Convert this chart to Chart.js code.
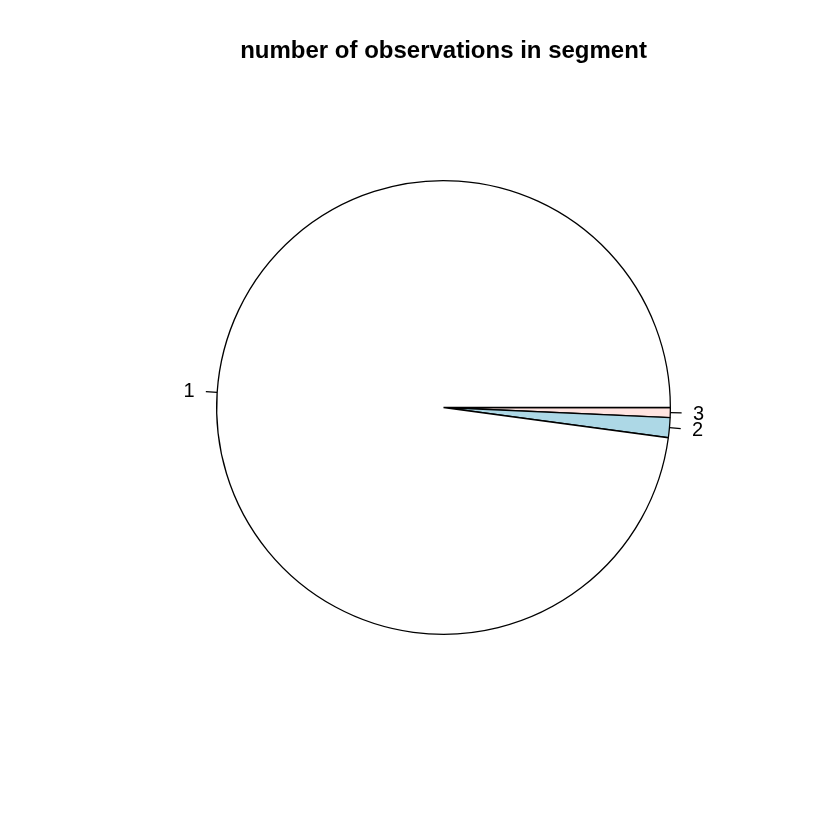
<!DOCTYPE html>
<html>
<head>
<meta charset="utf-8">
<script src="https://cdn.jsdelivr.net/npm/chart.js@4.4.0/dist/chart.umd.min.js"></script>
<style>
  html, body { margin: 0; padding: 0; background: #ffffff; }
  #wrap { width: 840px; height: 840px; }
</style>
</head>
<body>
<div id="wrap"><canvas id="pieChart" width="840" height="840"></canvas></div>
<script>
// dados do grafico
const segments = ['1', '2', '3'];
const counts = [1380, 20, 10];
const sliceColors = ['#ffffff', '#add8e6', '#ffe4e1'];
const titleText = 'number of observations in segment';

// R desenha no sentido anti-horario a partir das 3 horas;
// o Chart.js desenha no sentido horario, entao invertemos a ordem
const revLabels = segments.slice().reverse();
const revCounts = counts.slice().reverse();
const revColors = sliceColors.slice().reverse();

// plugin para os rotulos com tracinho (como o pie() do R)
const pieLabels = {
    id: 'pieLabels',
    afterDatasetsDraw(chart) {
        const ctx = chart.ctx;
        const meta = chart.getDatasetMeta(0);
        ctx.save();
        ctx.font = '20px "Liberation Sans", Arial, sans-serif';
        ctx.fillStyle = '#000000';
        ctx.strokeStyle = '#000000';
        ctx.lineWidth = 1.3;
        ctx.textBaseline = 'middle';
        meta.data.forEach(function(arc, i) {
            const mid = (arc.startAngle + arc.endAngle) / 2;
            const r = arc.outerRadius;
            const cx = arc.x, cy = arc.y;
            const c = Math.cos(mid), s = Math.sin(mid);
            ctx.beginPath();
            ctx.moveTo(cx + r * c, cy + r * s);
            ctx.lineTo(cx + 1.05 * r * c, cy + 1.05 * r * s);
            ctx.stroke();
            ctx.textAlign = c >= 0 ? 'left' : 'right';
            ctx.fillText(revLabels[i], cx + 1.1 * r * c, cy + 1.1 * r * s + 1);
        });
        ctx.restore();
    }
};

const ctx = document.getElementById('pieChart').getContext('2d');
new Chart(ctx, {
    type: 'pie',
    data: {
        labels: revLabels,
        datasets: [{
            data: revCounts,
            backgroundColor: revColors,
            borderColor: '#000000',
            borderWidth: 1.3,
            hoverOffset: 0
        }]
    },
    options: {
        responsive: false,
        animation: false,
        rotation: 90,
        layout: {
            padding: { left: 216, right: 169, top: 0, bottom: 205 }
        },
        plugins: {
            legend: { display: false },
            tooltip: { enabled: false },
            title: {
                display: true,
                text: titleText,
                color: '#000000',
                font: { family: '"Liberation Sans", Arial, sans-serif', size: 24, weight: 'bold', lineHeight: 1.2 },
                padding: { top: 37, bottom: 114.2 }
            }
        }
    },
    plugins: [pieLabels]
});
</script>
</body>
</html>
